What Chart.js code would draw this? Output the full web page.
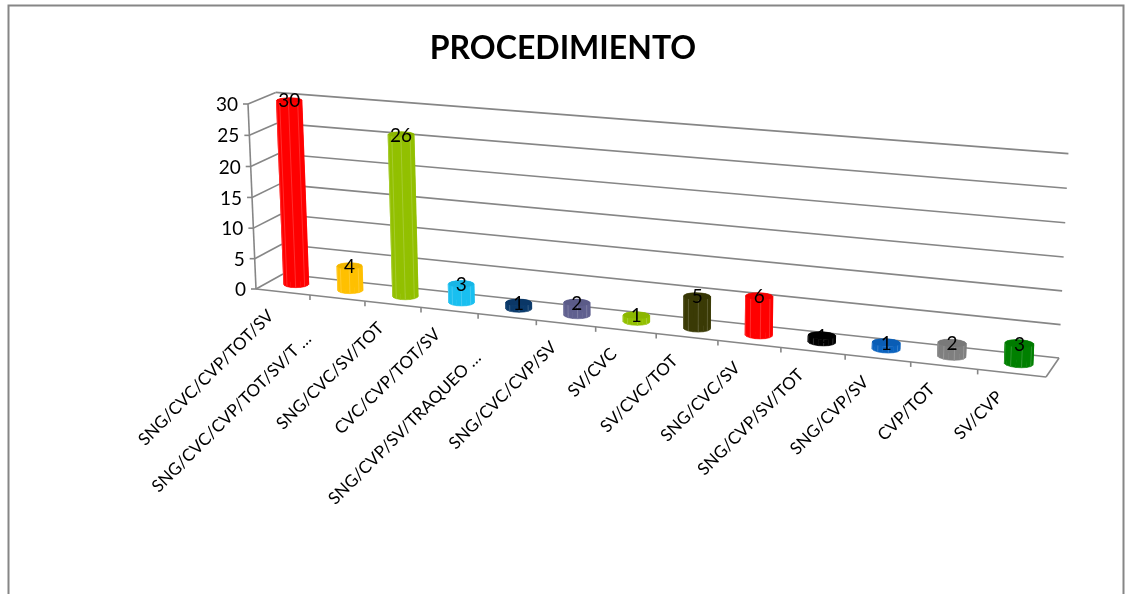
<!DOCTYPE html>
<html>
<head>
<meta charset="utf-8">
<style>html,body{margin:0;padding:0;background:#fff}canvas{display:block}</style>
<script src="https://cdn.jsdelivr.net/npm/chart.js@4/dist/chart.umd.min.js"></script>
</head>
<body>
<canvas id="c" width="1126" height="594"></canvas>
<script>
const chartTitle = 'PROCEDIMIENTO';
const categories = ['SNG/CVC/CVP/TOT/SV','SNG/CVC/CVP/TOT/SV/T …','SNG/CVC/SV/TOT','CVC/CVP/TOT/SV','SNG/CVP/SV/TRAQUEO …','SNG/CVC/CVP/SV','SV/CVC','SV/CVC/TOT','SNG/CVC/SV','SNG/CVP/SV/TOT','SNG/CVP/SV','CVP/TOT','SV/CVP'];
const values = [30,4,26,3,1,2,1,5,6,1,1,2,3];
const barColors = ['#FF0000','#FFC000','#92C000','#19BFF0','#0A3A6C','#60608F','#92C000','#3A3A05','#FF0000','#000000','#0A62BE','#7F7F7F','#008000'];
const yMax = 30, yStep = 5;

// Perspective camera used to lay the chart's own scales out as a 3D box.
const origin = [256,289], frontRight = [1046,377], backLeft = [283,274], topLeft = [248,104];
const wU = -0.12, wV = -0.02, wD = 0.02;
const axisColor = '#868686';
const FONT = 'Lato, Carlito, sans-serif';
const depthRadius = 0.2, facets = 16;
const truncatedLabelShift = 24;

function basis(p, w){ return [p[0]*(1+w)-origin[0], p[1]*(1+w)-origin[1]]; }
const A = basis(frontRight,wU), B = basis(topLeft,wV), C = basis(backLeft,wD);
function project(u,v,d){
  const w = 1 + wU*u + wV*v + wD*d;
  return [(origin[0]+A[0]*u+B[0]*v+C[0]*d)/w, (origin[1]+A[1]*u+B[1]*v+C[1]*d)/w];
}
function line(ctx,p,q){ ctx.beginPath(); ctx.moveTo(p[0],p[1]); ctx.lineTo(q[0],q[1]); ctx.stroke(); }
function shade(hex,f){
  const n = parseInt(hex.slice(1),16);
  const m = c => Math.round(f>=0 ? c+(255-c)*f : c*(1+f));
  return `rgb(${m(n>>16&255)},${m(n>>8&255)},${m(n&255)})`;
}

const box3d = {
  id:'box3d',
  beforeDatasetsDraw(chart){
    const {ctx,chartArea:a,scales:{x,y}} = chart;
    ctx.save();
    ctx.strokeStyle = axisColor; ctx.lineWidth = 2;
    ctx.beginPath(); ctx.moveTo(8.5,594); ctx.lineTo(8.5,5.5); ctx.lineTo(1123.5,5.5); ctx.lineTo(1123.5,594); ctx.stroke();
    ctx.lineWidth = 1.6;
    y.getTicks().forEach(t=>{
      const v = (a.bottom-y.getPixelForValue(t.value))/a.height;
      const f = project(0,v,0), bk = project(0,v,1), br = project(1,v,1);
      line(ctx,[f[0]-5,f[1]],f); line(ctx,f,bk); line(ctx,bk,br);
      ctx.fillStyle='#000'; ctx.font='19px '+FONT; ctx.textAlign='right'; ctx.textBaseline='middle';
      ctx.fillText(String(t.value),f[0]-10,f[1]+1);
    });
    line(ctx,project(0,0,0),project(0,1,0));
    line(ctx,project(0,0,0),project(1,0,0));
    line(ctx,project(1,0,0),project(1,0,1));
    categories.forEach((label,i)=>{
      const uL = (x.getPixelForValue(i-0.5)-a.left)/a.width;
      const uR = (x.getPixelForValue(i+0.5)-a.left)/a.width;
      const p = project(uL,0,0);
      if(i>0) line(ctx,p,[p[0],p[1]+5]);
      const c = project((uL+uR)/2,0,0);
      ctx.save();
      ctx.translate(c[0]-12,c[1]+21);
      ctx.rotate(-Math.PI/4);
      ctx.fillStyle='#000'; ctx.font='17px '+FONT; ctx.textAlign='right'; ctx.textBaseline='middle';
      ctx.fillText(label, label.endsWith('…') ? -truncatedLabelShift : 0, 0);
      ctx.restore();
    });
    ctx.restore();
  },
  beforeDatasetDraw(chart,args){
    const {ctx,chartArea:a} = chart;
    const meta = args.meta;
    ctx.save();
    meta.data.forEach((el,i)=>{
      const u = (el.x-a.left)/a.width, ru = el.width/2/a.width;
      const vT = (a.bottom-el.y)/a.height, vB = (a.bottom-el.base)/a.height;
      const col = barColors[i];
      const ring = v => { const r=[]; for(let k=0;k<facets;k++){const t=k/facets*Math.PI*2; r.push(project(u+ru*Math.cos(t),v,0.5+depthRadius*Math.sin(t)));} return r; };
      const top = ring(vT), bot = ring(vB);
      ctx.lineWidth = 0.6;
      const order = [...Array(facets).keys()].sort((p,q)=>(bot[p][1]+bot[(p+1)%facets][1])-(bot[q][1]+bot[(q+1)%facets][1]));
      order.forEach(k=>{
        const n=(k+1)%facets;
        ctx.fillStyle=col; ctx.strokeStyle=col;
        ctx.beginPath(); ctx.moveTo(top[k][0],top[k][1]); ctx.lineTo(top[n][0],top[n][1]); ctx.lineTo(bot[n][0],bot[n][1]); ctx.lineTo(bot[k][0],bot[k][1]); ctx.closePath(); ctx.fill(); ctx.stroke();
      });
      ctx.strokeStyle = shade(col,0.25); ctx.lineWidth=0.7;
      for(let k=1;k<facets/2;k+=2){ const j=facets-k; line(ctx,top[j],bot[j]); }
      ctx.fillStyle = shade(col,-0.05);
      ctx.beginPath(); top.forEach((p,k)=>k?ctx.lineTo(p[0],p[1]):ctx.moveTo(p[0],p[1])); ctx.closePath(); ctx.fill();
    });
    ctx.restore();
    return false;
  },
  afterDatasetsDraw(chart){
    const {ctx,chartArea:a} = chart;
    ctx.save();
    ctx.fillStyle='#000'; ctx.font='19px '+FONT; ctx.textAlign='center'; ctx.textBaseline='middle';
    chart.getDatasetMeta(0).data.forEach((el,i)=>{
      const p = project((el.x-a.left)/a.width,(a.bottom-el.y)/a.height,0.5);
      ctx.fillText(String(values[i]),p[0],p[1]+1);
    });
    ctx.restore();
  }
};

new Chart(document.getElementById('c'),{
  type:'bar',
  data:{labels:categories,datasets:[{data:values,backgroundColor:barColors,barPercentage:0.42,categoryPercentage:1}]},
  plugins:[box3d],
  options:{
    responsive:false,animation:false,
    plugins:{
      legend:{display:false},tooltip:{enabled:false},
      title:{display:true,text:chartTitle,color:'#000',font:{family:FONT,size:32,weight:'bold'},padding:{top:29,bottom:10}}
    },
    scales:{
      x:{display:false},
      y:{display:false,min:0,max:yMax,ticks:{stepSize:yStep}}
    }
  }
});
</script>
</body>
</html>
